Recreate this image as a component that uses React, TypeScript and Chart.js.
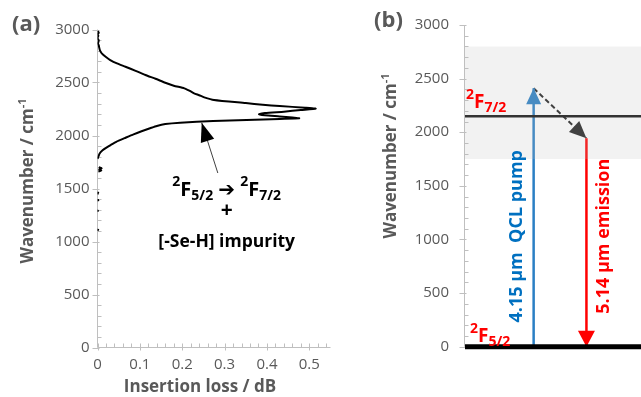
import React, { useEffect, useRef } from "react";
import { Chart, registerables } from "chart.js";

Chart.register(...registerables);

const FONT = "'Open Sans', 'DejaVu Sans', sans-serif";
const AXIS_TEXT = "#595959";
const AXIS_LINE = "#bfbfbf";
const RED = "#ff0000";
const BLUE_TEXT = "#0070c0";
const BLUE_ARROW = "#2a7fc4";

// ---- (a) insertion-loss spectrum: wavenumber (cm-1) vs loss (dB); null = gap in the trace
const wavenumbers = [
  2985, 2970, 2955, 2940, 2920, 2895, 2870, 2850, 2830, 2800, 2775, 2740, 2712, 2680, 2649,
  2610, 2571, 2535, 2498, 2470, 2445, 2420, 2398, 2380, 2360, 2335, 2306, 2290, 2278, 2262,
  2253, 2240, 2225, 2212, 2200, 2190, 2180, 2170, 2162, 2156, 2146, 2136, 2121, 2108, 2090,
  2068, 2040, 2011, 1975, 1942, 1910, 1888, 1860, 1830, 1800, 1780, 1750, 1700, 1690, 1680,
  1670, 1660, 1600, 1470, 1445, 1420, 1400, 1380, 1350, 1300, 1280, 1200, 1120, 1100,
];
const insertionLoss = [
  0.0, 0.003, 0.0, 0.002, 0.0, 0.003, 0.001, 0.003, 0.004, 0.006, 0.01, 0.02, 0.03, 0.046, 0.066,
  0.09, 0.113, 0.137, 0.16, 0.18, 0.205, 0.218, 0.228, 0.24, 0.252, 0.275, 0.35, 0.39, 0.43, 0.49,
  0.515, 0.48, 0.44, 0.395, 0.381, 0.395, 0.43, 0.46, 0.476, 0.43, 0.352, 0.273, 0.195, 0.16, 0.14,
  0.124, 0.104, 0.085, 0.064, 0.045, 0.031, 0.022, 0.012, 0.005, 0.002, 0.0, null, 0.003, 0.01, 0.004,
  0.009, 0.002, null, 0.002, 0.0, null, 0.001, 0.002, null, 0.001, 0.0, null, 0.002, 0.0,
];
const lossTicks = [0, 0.1, 0.2, 0.3, 0.4, 0.5];
const wavenumberTicks = [0, 500, 1000, 1500, 2000, 2500, 3000];

// ---- (b) energy-level scheme (cm-1)
const groundLevel = 0; // 2F5/2
const upperLevel = 2150; // 2F7/2
const upperManifold = [1750, 2800];
const pumpLevel = 2410; // 4.15 µm QCL pump
const emissionLevel = 1945; // 5.14 µm emission
const pumpColumn = 0.39;
const emissionColumn = 0.69;

type Run = { t: string; s?: "sup" | "sub"; f?: string };

function drawRich(
  ctx: CanvasRenderingContext2D,
  runs: Run[],
  x: number,
  y: number,
  size: number,
  small: number,
  color: string,
  align: "left" | "center" = "left",
  supShift = 0.48,
  subShift = 0.2,
) {
  ctx.save();
  ctx.fillStyle = color;
  ctx.textBaseline = "alphabetic";
  ctx.textAlign = "left";
  const fontFor = (r: Run) => `bold ${r.s ? small : size}px ${r.f || FONT}`;
  let total = 0;
  const widths = runs.map((r) => {
    ctx.font = fontFor(r);
    const w = ctx.measureText(r.t).width;
    total += w;
    return w;
  });
  let cx = align === "center" ? x - total / 2 : x;
  runs.forEach((r, i) => {
    ctx.font = fontFor(r);
    const dy = r.s === "sup" ? -size * supShift : r.s === "sub" ? size * subShift : 0;
    ctx.fillText(r.t, cx, y + dy);
    cx += widths[i];
  });
  ctx.restore();
}

function drawRotated(ctx: CanvasRenderingContext2D, x: number, y: number, fn: () => void) {
  ctx.save();
  ctx.translate(x, y);
  ctx.rotate(-Math.PI / 2);
  fn();
  ctx.restore();
}

function seg(ctx: CanvasRenderingContext2D, x1: number, y1: number, x2: number, y2: number) {
  ctx.beginPath();
  ctx.moveTo(x1, y1);
  ctx.lineTo(x2, y2);
  ctx.stroke();
}

function arrowHead(
  ctx: CanvasRenderingContext2D,
  fromX: number,
  fromY: number,
  tipX: number,
  tipY: number,
  len: number,
  width: number,
  color: string,
) {
  const ang = Math.atan2(tipY - fromY, tipX - fromX);
  ctx.save();
  ctx.translate(tipX, tipY);
  ctx.rotate(ang);
  ctx.beginPath();
  ctx.moveTo(0, 0);
  ctx.lineTo(-len, width / 2);
  ctx.lineTo(-len, -width / 2);
  ctx.closePath();
  ctx.fillStyle = color;
  ctx.fill();
  ctx.restore();
}

// Vertical value axis with cross major ticks and inside minor ticks
function drawValueAxis(ctx: CanvasRenderingContext2D, chart: any) {
  const a = chart.chartArea;
  const y = chart.scales.y;
  const ax = Math.round(a.left) - 0.5;
  ctx.save();
  ctx.strokeStyle = AXIS_LINE;
  ctx.lineWidth = 1;
  seg(ctx, ax, a.top, ax, a.bottom);
  for (let v = 0; v <= 3000; v += 100) {
    const py = Math.round(y.getPixelForValue(v)) + 0.5;
    if (v % 500 === 0) seg(ctx, ax - 5, py, ax + 2, py);
    else seg(ctx, ax, py, ax + 4, py);
  }
  ctx.restore();
}

const leftDecor = {
  id: "leftDecor",
  beforeDatasetsDraw(chart: any) {
    const { ctx, chartArea: a, scales } = chart;
    drawValueAxis(ctx, chart);
    const x = scales.x;
    const ay = Math.round(a.bottom) - 0.5;
    ctx.save();
    ctx.strokeStyle = AXIS_LINE;
    ctx.lineWidth = 1;
    seg(ctx, a.left, ay, a.right, ay);
    for (let i = 0; i <= 27; i++) {
      const v = i * 0.02;
      const px = Math.round(x.getPixelForValue(v)) + 0.5;
      if (i % 5 === 0) seg(ctx, px, ay - 4, px, ay + 3);
      else seg(ctx, px, ay - 4, px, ay);
    }
    ctx.restore();
  },
  afterDraw(chart: any) {
    const { ctx, scales } = chart;
    const x = scales.x;
    const y = scales.y;
    // panel tag
    ctx.save();
    ctx.fillStyle = AXIS_TEXT;
    ctx.font = `bold 22px ${FONT}`;
    ctx.textBaseline = "alphabetic";
    ctx.textAlign = "left";
    ctx.fillText("(a)", 12, 31);
    // x title
    ctx.font = `bold 17px ${FONT}`;
    ctx.textAlign = "center";
    ctx.fillText("Insertion loss / dB", 200, 392);
    ctx.restore();
    // y title
    drawRotated(ctx, 33, 181, () =>
      drawRich(ctx, [{ t: "Wavenumber / cm" }, { t: "-1", s: "sup" }], 0, 0, 17, 11, AXIS_TEXT, "center", 0.42),
    );
    // annotation arrow pointing at the absorption band
    const tx = x.getPixelForValue(0.284);
    const ty = y.getPixelForValue(1646);
    const hx = x.getPixelForValue(0.246);
    const hy = y.getPixelForValue(2121);
    ctx.save();
    ctx.strokeStyle = "#404040";
    ctx.lineWidth = 1;
    seg(ctx, tx, ty, hx, hy);
    ctx.restore();
    arrowHead(ctx, tx, ty, hx, hy, 19, 14, "#000");
    // annotation text
    const cx = x.getPixelForValue(0.305);
    drawRich(
      ctx,
      [
        { t: "2", s: "sup" },
        { t: "F" },
        { t: "5/2", s: "sub" },
        { t: " " },
        { t: "\u2794", f: "'DejaVu Sans', sans-serif" },
        { t: " " },
        { t: "2", s: "sup" },
        { t: "F" },
        { t: "7/2", s: "sub" },
      ],
      cx,
      y.getPixelForValue(1429),
      20,
      14,
      "#000",
      "center",
    );
    ctx.save();
    ctx.fillStyle = "#000";
    ctx.font = `bold 21px ${FONT}`;
    ctx.textAlign = "center";
    ctx.textBaseline = "middle";
    ctx.fillText("+", cx, y.getPixelForValue(1285));
    ctx.font = `bold 17.5px ${FONT}`;
    ctx.textBaseline = "alphabetic";
    ctx.fillText("[-Se-H] impurity", cx, y.getPixelForValue(948));
    ctx.restore();
  },
};

const rightDecor = {
  id: "rightDecor",
  beforeDatasetsDraw(chart: any) {
    drawValueAxis(chart.ctx, chart);
  },
  afterDatasetDraw(chart: any, args: any) {
    const ds = chart.data.datasets[args.index];
    if (!ds.head) return;
    const pts = args.meta.data;
    const p1 = pts[pts.length - 2];
    const p2 = pts[pts.length - 1];
    arrowHead(chart.ctx, p1.x, p1.y, p2.x, p2.y, ds.head[0], ds.head[1], ds.borderColor);
  },
  afterDraw(chart: any) {
    const { ctx, chartArea: a, scales } = chart;
    const x = scales.x;
    const y = scales.y;
    ctx.save();
    ctx.fillStyle = AXIS_TEXT;
    ctx.font = `bold 22px ${FONT}`;
    ctx.textBaseline = "alphabetic";
    ctx.textAlign = "left";
    ctx.fillText("(b)", 29, 27);
    ctx.restore();
    drawRotated(ctx, 51, 156, () =>
      drawRich(ctx, [{ t: "Wavenumber / cm" }, { t: "-1", s: "sup" }], 0, 0, 17, 11, AXIS_TEXT, "center", 0.42),
    );
    // level labels
    drawRich(
      ctx,
      [{ t: "2", s: "sup" }, { t: "F" }, { t: "7/2", s: "sub" }],
      a.left + 1,
      y.getPixelForValue(upperLevel) - 8,
      19,
      14,
      RED,
    );
    drawRich(
      ctx,
      [{ t: "2", s: "sup" }, { t: "F" }, { t: "5/2", s: "sub" }],
      a.left + 5,
      y.getPixelForValue(groundLevel) - 5,
      19,
      14,
      RED,
    );
    // transition labels, written along the arrows
    const midY = y.getPixelForValue(1030);
    drawRotated(ctx, x.getPixelForValue(pumpColumn) - 12, midY, () => {
      ctx.fillStyle = BLUE_TEXT;
      ctx.font = `bold 18px ${FONT}`;
      ctx.textAlign = "center";
      ctx.textBaseline = "alphabetic";
      ctx.fillText("4.15 \u00b5m  QCL pump", 0, 0);
    });
    drawRotated(ctx, x.getPixelForValue(emissionColumn) + 23, midY, () => {
      ctx.fillStyle = RED;
      ctx.font = `bold 18px ${FONT}`;
      ctx.textAlign = "center";
      ctx.textBaseline = "alphabetic";
      ctx.fillText("5.14 \u00b5m emission", 0, 0);
    });
  },
};

const noGrid = { display: false, drawTicks: false };
const tickFont = { family: FONT, size: 15 };

function leftConfig(): any {
  const points = wavenumbers.map((w, i) => ({ x: insertionLoss[i] === null ? NaN : insertionLoss[i], y: w }));
  return {
    type: "line",
    data: {
      datasets: [
        {
          data: points,
          borderColor: "#000",
          borderWidth: 2,
          pointRadius: 0,
          tension: 0.2,
          spanGaps: false,
          fill: false,
        },
      ],
    },
    options: {
      animation: false,
      responsive: false,
      events: [],
      layout: { padding: { top: 29.5, right: 14.5, left: 0, bottom: 0 } },
      plugins: { legend: { display: false }, tooltip: { enabled: false } },
      scales: {
        x: {
          type: "linear",
          min: 0,
          max: 0.55,
          grid: noGrid,
          border: { display: false },
          afterBuildTicks: (s: any) => {
            s.ticks = lossTicks.map((v) => ({ value: v }));
          },
          afterFit: (s: any) => {
            s.height = 49.5;
          },
          ticks: { padding: 8, color: AXIS_TEXT, font: tickFont, maxRotation: 0, callback: (v: any) => String(v) },
        },
        y: {
          type: "linear",
          min: 0,
          max: 3000,
          grid: noGrid,
          border: { display: false },
          afterBuildTicks: (s: any) => {
            s.ticks = wavenumberTicks.map((v) => ({ value: v }));
          },
          afterFit: (s: any) => {
            s.width = 97.5;
          },
          ticks: { padding: 8, color: AXIS_TEXT, font: tickFont, callback: (v: any) => String(v) },
        },
      },
    },
    plugins: [leftDecor],
  };
}

function rightConfig(): any {
  const flat = (v: number) => [
    { x: 0, y: v },
    { x: 1, y: v },
  ];
  return {
    type: "line",
    data: {
      datasets: [
        // manifold band, laid over the arrows
        { data: flat(upperManifold[1]), borderWidth: 0, pointRadius: 0, fill: "+1", backgroundColor: "rgba(190,190,190,0.2)", order: 0 },
        { data: flat(upperManifold[0]), borderWidth: 0, pointRadius: 0, fill: false, order: 0 },
        { data: flat(upperLevel), borderColor: "#111", borderWidth: 2.5, pointRadius: 0, fill: false, order: 1 },
        { data: flat(groundLevel), borderColor: "#000", borderWidth: 5, pointRadius: 0, fill: false, order: 1, clip: false },
        {
          data: [
            { x: pumpColumn, y: groundLevel },
            { x: pumpColumn, y: pumpLevel },
          ],
          borderColor: BLUE_ARROW,
          borderWidth: 2.5,
          pointRadius: 0,
          fill: false,
          order: 1,
          head: [16, 15],
        },
        {
          data: [
            { x: emissionColumn, y: emissionLevel },
            { x: emissionColumn, y: groundLevel },
          ],
          borderColor: RED,
          borderWidth: 2.5,
          pointRadius: 0,
          fill: false,
          order: 1,
          head: [16, 17],
        },
        {
          data: [
            { x: pumpColumn, y: pumpLevel },
            { x: emissionColumn, y: emissionLevel },
          ],
          borderColor: "#222",
          borderWidth: 2,
          borderDash: [5, 3],
          pointRadius: 0,
          fill: false,
          order: 1,
          head: [17, 15],
        },
      ],
    },
    options: {
      animation: false,
      responsive: false,
      events: [],
      layout: { padding: { top: 17.3, right: 0, left: 0, bottom: 50.3 } },
      plugins: { legend: { display: false }, tooltip: { enabled: false } },
      scales: {
        x: { type: "linear", min: 0, max: 1, display: false },
        y: {
          type: "linear",
          min: 0,
          max: 3000,
          grid: noGrid,
          border: { display: false },
          afterBuildTicks: (s: any) => {
            s.ticks = wavenumberTicks.map((v) => ({ value: v }));
          },
          afterFit: (s: any) => {
            s.width = 120;
          },
          ticks: { padding: 16, color: AXIS_TEXT, font: tickFont, callback: (v: any) => String(v) },
        },
      },
    },
    plugins: [rightDecor],
  };
}

export default function App() {
  const leftRef = useRef<HTMLCanvasElement>(null);
  const rightRef = useRef<HTMLCanvasElement>(null);
  useEffect(() => {
    document.body.style.margin = "0";
    const left = new Chart(leftRef.current!, leftConfig());
    const right = new Chart(rightRef.current!, rightConfig());
    return () => {
      left.destroy();
      right.destroy();
    };
  }, []);
  return (
    <div style={{ position: "relative", width: 641, height: 397, background: "#fff", overflow: "hidden" }}>
      <canvas ref={leftRef} width={345} height={397} style={{ position: "absolute", left: 0, top: 0 }} />
      <canvas ref={rightRef} width={296} height={397} style={{ position: "absolute", left: 345, top: 0 }} />
    </div>
  );
}
